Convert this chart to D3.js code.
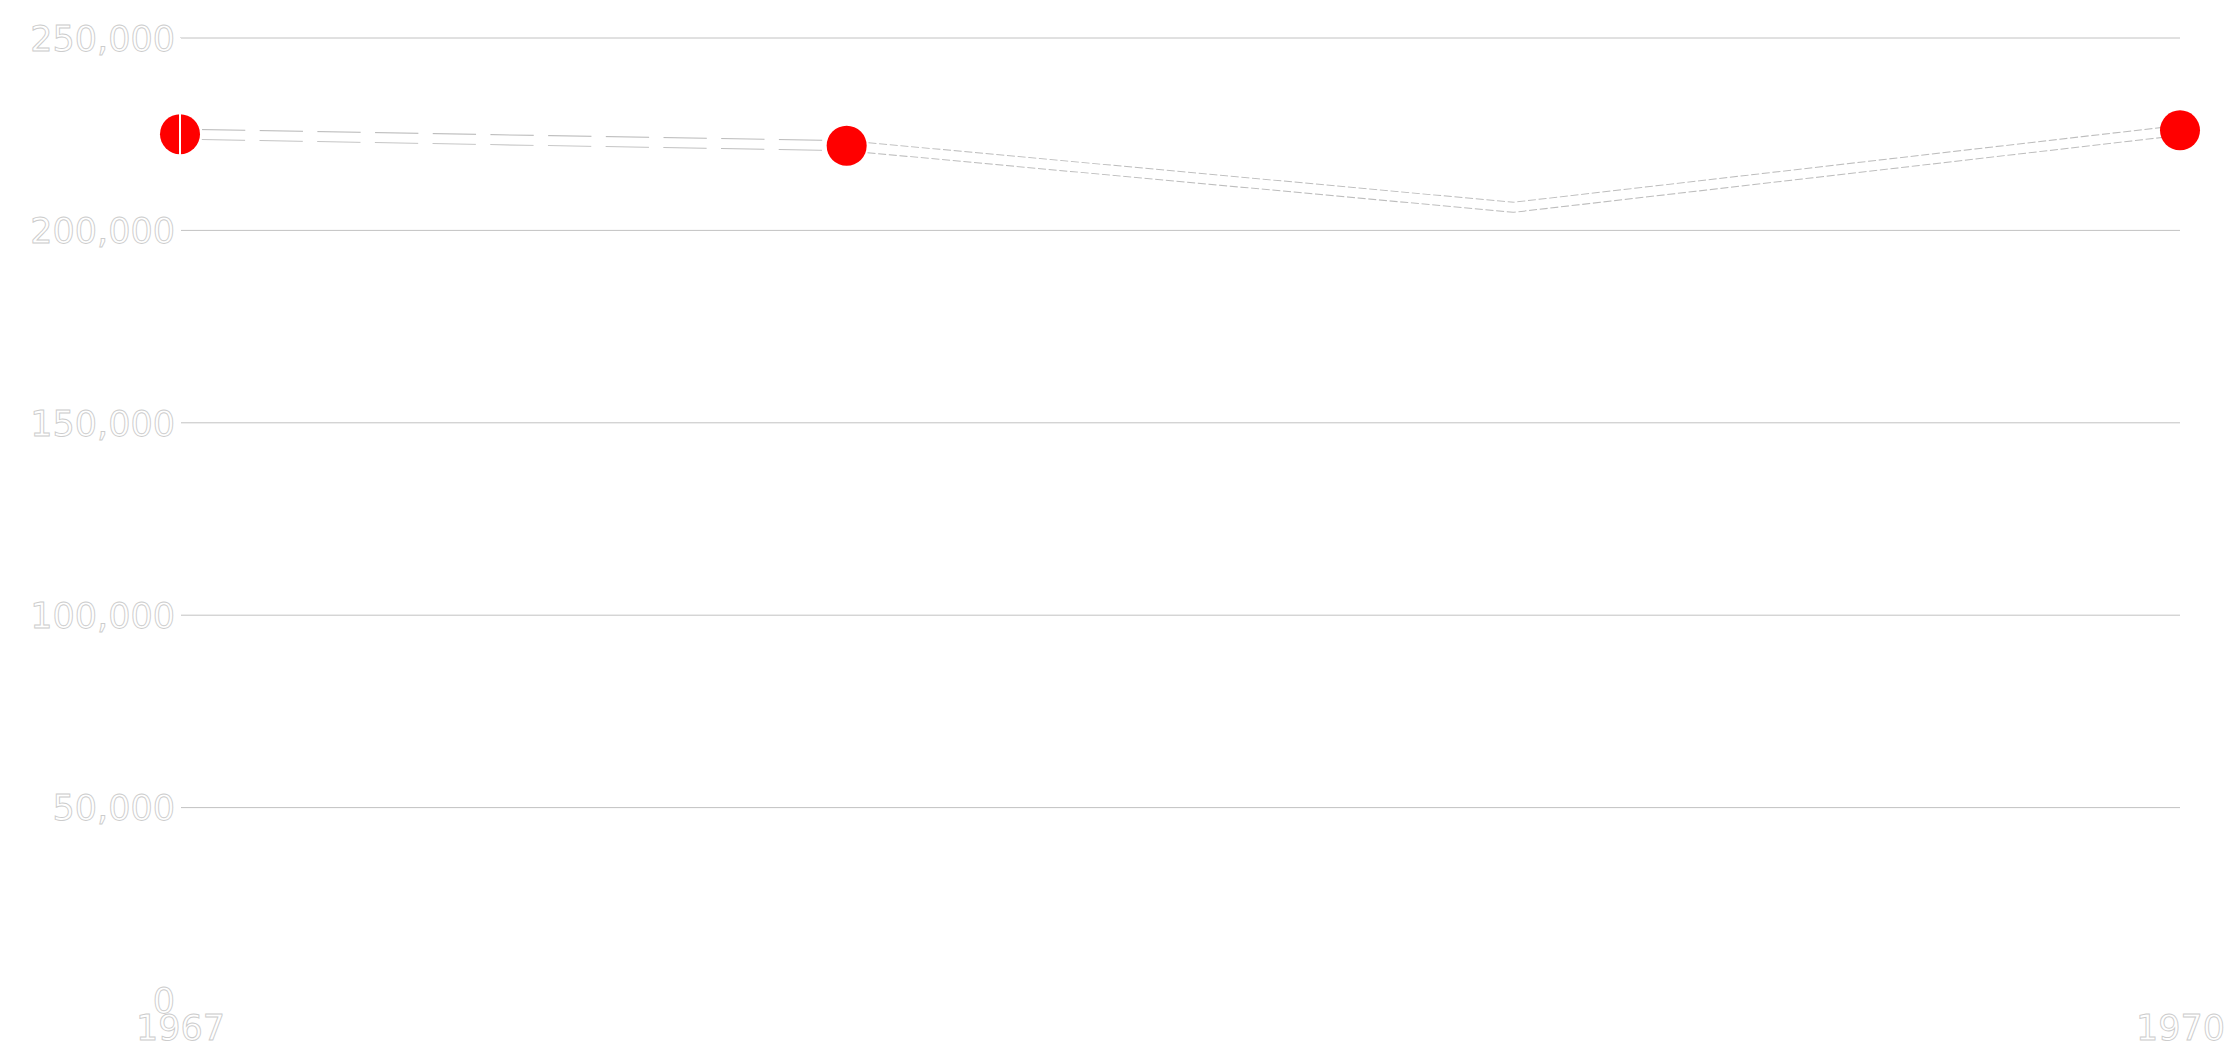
<!DOCTYPE html>
<html>
<head>
<meta charset="utf-8">
<script src="https://cdn.jsdelivr.net/npm/d3@7"></script>
<style>
  html, body { margin: 0; padding: 0; background: #ffffff; }
  svg { display: block; }
  text { font-family: "DejaVu Sans", sans-serif; font-size: 35px; fill: #ffffff; stroke: #cccccc; stroke-width: 0.9px; }
</style>
</head>
<body>
<svg id="chart" width="2230" height="1050"></svg>
<script>
// ---- data ----
const years = [1967, 1968, 1969, 1970];
const values = [225000, 222000, 206000, 226000];
const showMarker = [true, true, false, true];
const yTickValues = [0, 50000, 100000, 150000, 200000, 250000];
const xTickLabels = ["1967", "1970"];

// ---- layout ----
const W = 2230, H = 1050;
const plot = { left: 180, right: 2180, top: 38, bottom: 1000 };

const svg = d3.select("#chart");
const x = d3.scaleLinear().domain([1967, 1970]).range([plot.left, plot.right]);
const y = d3.scaleLinear().domain([0, 250000]).range([plot.bottom, plot.top]);
const fmt = d3.format(",");

// gridlines (none at zero)
svg.append("g").selectAll("line")
  .data(yTickValues.filter(v => v > 0))
  .join("line")
  .attr("x1", plot.left).attr("x2", plot.right)
  .attr("y1", d => y(d)).attr("y2", d => y(d))
  .attr("stroke", "#c2c2c2").attr("stroke-width", 1);

// y axis labels
const yAxis = d3.axisLeft(y).tickValues(yTickValues).tickFormat(fmt).tickSize(0).tickPadding(5);
const gy = svg.append("g").attr("transform", `translate(${plot.left},0)`).call(yAxis);
gy.select(".domain").remove();
gy.selectAll("text")
  .attr("fill", null).attr("font-family", null).attr("font-size", null)
  .attr("dy", "0.35em");

// x axis labels
const xAxis = d3.axisBottom(x).tickValues(xTickLabels.map(Number)).tickFormat(d => String(d)).tickSize(0).tickPadding(0);
const gx = svg.append("g").attr("transform", `translate(0,${plot.bottom})`).call(xAxis);
gx.select(".domain").remove();
gx.selectAll("text")
  .attr("fill", null).attr("font-family", null).attr("font-size", null)
  .attr("dy", null).attr("y", 40);

// series
const pts = years.map((yr, i) => ({ yr, v: values[i], m: showMarker[i] }));
const line = d3.line().x(d => x(d.yr)).y(d => y(d.v)).curve(d3.curveLinear);

const segs = [
  { data: pts.slice(0, 2), dash: "43.3,14.4", offset: 35.8 },
  { data: pts.slice(1), dash: "8,2.7", offset: 0 }
];
const gl = svg.append("g");
segs.forEach(s => {
  gl.append("path").attr("d", line(s.data))
    .attr("fill", "none").attr("stroke", "#bdbdbd").attr("stroke-width", 11)
    .attr("stroke-dasharray", s.dash).attr("stroke-dashoffset", s.offset)
    .attr("stroke-linejoin", "round");
});
segs.forEach(s => {
  gl.append("path").attr("d", line(s.data))
    .attr("fill", "none").attr("stroke", "#ffffff").attr("stroke-width", 9)
    .attr("stroke-linejoin", "round");
});

// markers
svg.append("g").selectAll("circle")
  .data(pts.filter(d => d.m))
  .join("circle")
  .attr("cx", d => x(d.yr)).attr("cy", d => y(d.v)).attr("r", 20)
  .attr("fill", "#ff0000");

// white y-axis line over everything
svg.append("line")
  .attr("x1", x(1967)).attr("x2", x(1967))
  .attr("y1", plot.top).attr("y2", plot.bottom)
  .attr("stroke", "#ffffff").attr("stroke-width", 2);
</script>
</body>
</html>
